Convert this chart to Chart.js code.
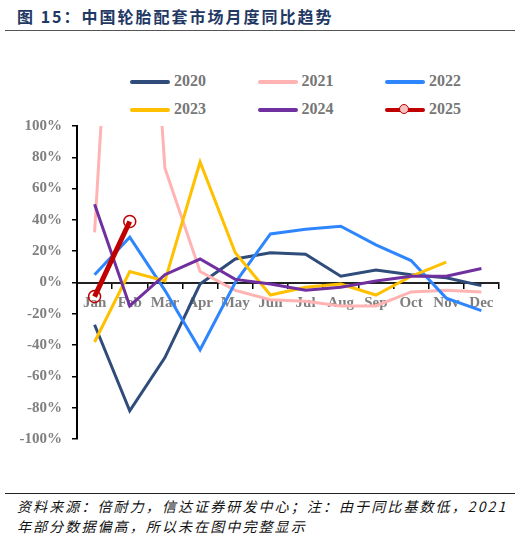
<!DOCTYPE html>
<html>
<head>
<meta charset="utf-8">
<script src="https://cdn.jsdelivr.net/npm/chart.js@4.4.1/dist/chart.umd.min.js"></script>
<style>
  body { margin: 0; width: 521px; height: 541px; background: #fff; position: relative; overflow: hidden; }
  #title { position: absolute; left: 17px; top: 4px; font: bold 16px "Noto Sans CJK SC", sans-serif; color: #1f3864; letter-spacing: 2px; white-space: nowrap; }
  .rule { position: absolute; left: 5px; width: 510px; height: 1px; }
  #legend .item { position: absolute; font: bold 16px "Liberation Serif", serif; color: #767676; height: 20px; line-height: 20px; white-space: nowrap; }
  #legend .swatch { display: inline-block; position: relative; width: 40px; height: 4px; vertical-align: middle; margin-right: 4px; border-radius: 2px; }
  #legend .dot { position: absolute; left: 14px; top: -4px; width: 8px; height: 8px; border: 1.5px solid #c00000; border-radius: 50%; background: #f4c0c0; }
  #chart-wrap { position: absolute; left: 0; top: 106px; width: 521px; height: 352px; }
  #note { position: absolute; left: 17px; top: 496px; font: italic 14px "Noto Sans CJK SC", sans-serif; color: #111; letter-spacing: 2.1px; line-height: 20px; }
</style>
</head>
<body>
<div id="title">图 15：中国轮胎配套市场月度同比趋势</div>
<div class="rule" style="top:30px;background:#555"></div>
<div id="legend"></div>
<div id="chart-wrap"><canvas id="chart"></canvas></div>
<div class="rule" style="top:493px;background:#222"></div>
<div id="note">资料来源：倍耐力，信达证券研发中心；注：由于同比基数低，2021<br>年部分数据偏高，所以未在图中完整显示</div>

<script>
const months = ["Jan", "Feb", "Mar", "Apr", "May", "Jun", "Jul", "Aug", "Sep", "Oct", "Nov", "Dec"];
const years = ["2020", "2021", "2022", "2023", "2024", "2025"];

// YoY growth, %
const y2020 = [-27, -82, -48, -1, 15, 19, 18, 4, 8, 5, 3, -2];
const y2021 = [32, 410, 73, 7, -5, -11, -12, -15, -15, -6, -5, -6];
const y2022 = [5, 29, -5, -43, 0, 31, 34, 36, 24, 14, -10, -18];
const y2023 = [-38, 7, 1, 77, 19, -8, -3, -1, -8, 4, 13, null];
const y2024 = [50, -15, 5, 15, 2, -1, -5, -3, 1, 4, 4, 9];
const y2025 = [-9, 39, null, null, null, null, null, null, null, null, null, null];

const seriesData = [y2020, y2021, y2022, y2023, y2024, y2025];
const colors = ["#2f4c7a", "#ffb3b3", "#2e86ff", "#ffc000", "#7030a0", "#c00000"];

const legend = document.getElementById("legend");
years.forEach((year, i) => {
  const item = document.createElement("div");
  item.className = "item";
  item.style.left = (130 + (i % 3) * 127.5) + "px";
  item.style.top = (71 + Math.floor(i / 3) * 28) + "px";
  const dot = year === "2025" ? '<span class="dot"></span>' : "";
  item.innerHTML = `<span class="swatch" style="background:${colors[i]}">${dot}</span>${year}`;
  legend.appendChild(item);
});

const tickFont = { family: "Liberation Serif", size: 15, weight: "bold" };

new Chart(document.getElementById("chart"), {
  type: "line",
  data: {
    labels: months,
    datasets: years.map((year, i) => {
      const last = year === "2025";
      return {
        label: year,
        data: seriesData[i],
        borderColor: colors[i],
        backgroundColor: colors[i],
        borderWidth: last ? 5 : 3,
        tension: 0,
        spanGaps: false,
        order: years.length - i,
        pointRadius: last ? 6 : 0,
        pointHoverRadius: last ? 6 : 0,
        pointBorderWidth: 1.5,
        pointBorderColor: "#c00000",
        pointBackgroundColor: "rgba(255,255,255,0)",
      };
    }),
  },
  options: {
    responsive: true,
    maintainAspectRatio: false,
    animation: false,
    layout: { padding: { top: 20, right: 22, bottom: 12, left: 0 } },
    plugins: {
      legend: { display: false },
      tooltip: { enabled: false },
    },
    scales: {
      x: {
        type: "category",
        offset: true,
        position: { y: 0 },
        grid: { offset: true, drawOnChartArea: false, drawTicks: true, tickLength: 5, color: "#000", lineWidth: 1.5 },
        border: { display: true, color: "#222", width: 2 },
        ticks: { font: tickFont, color: "#7f7f7f", padding: 7, maxRotation: 0, autoSkip: false },
      },
      y: {
        min: -100,
        max: 100,
        afterFit: (scale) => { scale.width = 77; },
        grid: { drawOnChartArea: false, drawTicks: true, tickLength: 5, color: "#000", lineWidth: 1.5 },
        border: { display: true, color: "#000", width: 2 },
        ticks: {
          stepSize: 20,
          font: tickFont,
          color: "#7f7f7f",
          padding: 10,
          callback: (value) => value + "%",
        },
      },
    },
  },
});
</script>
</body>
</html>
